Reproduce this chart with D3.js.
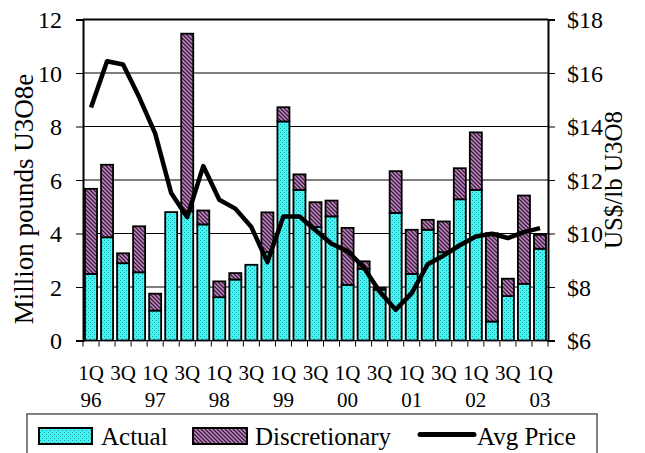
<!DOCTYPE html>
<html>
<head>
<meta charset="utf-8">
<script src="https://d3js.org/d3.v7.min.js"></script>
<style>
  body { margin: 0; background: #fff; }
  svg { display: block; }
  text { font-family: "Liberation Serif", "Times New Roman", serif; fill: #000; }
</style>
</head>
<body>
<div class="svg-container"></div>
<script>
// quarters 1Q96 .. 1Q03
const quarters = ["1Q96","2Q96","3Q96","4Q96","1Q97","2Q97","3Q97","4Q97","1Q98","2Q98","3Q98","4Q98",
  "1Q99","2Q99","3Q99","4Q99","1Q00","2Q00","3Q00","4Q00","1Q01","2Q01","3Q01","4Q01","1Q02","2Q02","3Q02","4Q02","1Q03"];
// million pounds U3O8e
const actual = [2.49,3.86,2.89,2.55,1.12,4.80,4.83,4.34,1.62,2.28,2.83,3.30,8.19,5.63,4.24,4.64,2.08,2.68,1.90,4.77,2.49,4.14,3.30,5.28,5.63,0.71,1.66,2.12,3.43];
const discretionary = [3.18,2.71,0.37,1.72,0.63,0,6.64,0.52,0.59,0.24,0,1.49,0.53,0.58,0.93,0.59,2.13,0.28,0.07,1.56,1.65,0.37,1.15,1.16,2.15,3.30,0.65,3.30,0.52];
// US$/lb U3O8
const avgPrice = [14.71,16.44,16.32,15.10,13.74,11.51,10.61,12.52,11.26,10.93,10.24,8.93,10.64,10.64,10.12,9.62,9.34,8.74,7.83,7.15,7.77,8.85,9.18,9.56,9.89,9.99,9.83,10.05,10.20];
const leftTicks = [0,2,4,6,8,10,12];
const rightTicks = [6,8,10,12,14,16,18];

var width = 645, height = 453;
var plotLeft = 83, plotRight = 548, plotTop = 19.5, plotBottom = 340.5;
var serif = "'Liberation Serif', 'Times New Roman', serif";

var svg = d3.select(".svg-container").append("svg")
  .attr("width", width)
  .attr("height", height);

var defs = svg.append("defs");

// dotted cyan fill
var pa = defs.append("pattern").attr("id", "pat-actual")
  .attr("patternUnits", "userSpaceOnUse").attr("width", 4).attr("height", 4);
pa.append("rect").attr("width", 4).attr("height", 4).attr("fill", "#3ff6f6");
pa.append("rect").attr("x", 0).attr("y", 0).attr("width", 1).attr("height", 1).attr("fill", "#2a9c9c");
pa.append("rect").attr("x", 2).attr("y", 2).attr("width", 1).attr("height", 1).attr("fill", "#2a9c9c");

// hatched purple fill
var pd = defs.append("pattern").attr("id", "pat-disc")
  .attr("patternUnits", "userSpaceOnUse").attr("width", 4).attr("height", 4);
pd.append("rect").attr("width", 4).attr("height", 4).attr("fill", "#c68cc6");
pd.append("path")
  .attr("d", "M-1,-1L5,5M-1,3L1,5M3,-1L5,1")
  .attr("stroke", "#3c1e3c").attr("stroke-width", 1.4);

var x = d3.scaleBand().domain(quarters).range([plotLeft, plotRight])
  .paddingInner(0.25).paddingOuter(0.125);
var y = d3.scaleLinear().domain([0, 12]).range([plotBottom, plotTop]);
var yPrice = d3.scaleLinear().domain([6, 18]).range([plotBottom, plotTop]);

// gridlines
svg.append("g").selectAll("line")
  .data(leftTicks.filter(function(t) { return t > 0 && t < 12; }))
  .enter().append("line")
  .attr("x1", plotLeft).attr("x2", plotRight)
  .attr("y1", function(d) { return y(d); }).attr("y2", function(d) { return y(d); })
  .attr("stroke", "#000").attr("stroke-width", 1);

// stacked bars
var rows = quarters.map(function(q, i) {
  return {q: q, actual: actual[i], disc: discretionary[i]};
});
var stack = d3.stack().keys(["actual", "disc"])(rows);
var fills = {actual: "url(#pat-actual)", disc: "url(#pat-disc)"};

svg.append("g").selectAll("g")
  .data(stack)
  .enter().append("g")
  .attr("fill", function(s) { return fills[s.key]; })
  .selectAll("rect")
  .data(function(s) { return s.filter(function(d) { return d[1] - d[0] > 0; }); })
  .enter().append("rect")
  .attr("x", function(d) { return x(d.data.q); })
  .attr("width", x.bandwidth())
  .attr("y", function(d) { return y(d[1]); })
  .attr("height", function(d) { return y(d[0]) - y(d[1]); })
  .attr("stroke", "#000").attr("stroke-width", 1.8);

// frame: top border and base line
svg.append("line").attr("x1", plotLeft).attr("x2", plotRight).attr("y1", plotTop).attr("y2", plotTop)
  .attr("stroke", "#000").attr("stroke-width", 2);
svg.append("line").attr("x1", plotLeft).attr("x2", plotRight).attr("y1", plotBottom).attr("y2", plotBottom)
  .attr("stroke", "#000").attr("stroke-width", 1);

// price line
var line = d3.line()
  .x(function(d, i) { return x(quarters[i]) + x.bandwidth() / 2; })
  .y(function(d) { return yPrice(d); });
svg.append("path").datum(avgPrice)
  .attr("d", line)
  .attr("fill", "none").attr("stroke", "#000")
  .attr("stroke-width", 4.5).attr("stroke-linejoin", "round").attr("stroke-linecap", "butt");

// left axis
var gl = svg.append("g").attr("transform", "translate(" + plotLeft + ",0)")
  .call(d3.axisLeft(y).tickValues(leftTicks).tickSize(7).tickPadding(14).tickFormat(d3.format("d")))
  .attr("font-family", serif).attr("font-size", 24);
gl.select(".domain").attr("stroke-width", 2);
gl.selectAll("text").attr("dy", "0.34em");

// right axis
var gr = svg.append("g").attr("transform", "translate(" + plotRight + ",0)")
  .call(d3.axisRight(yPrice).tickValues(rightTicks).tickSize(7).tickPadding(12)
    .tickFormat(function(d) { return "$" + d; }))
  .attr("font-family", serif).attr("font-size", 24);
gr.select(".domain").attr("stroke-width", 2);
gr.selectAll("text").attr("dy", "0.34em");

// x tick marks at category boundaries
var bounds = quarters.map(function(q) { return x(q) - x.step() * x.paddingInner() / 2; });
bounds.push(plotRight);
svg.append("g").selectAll("line")
  .data(bounds).enter().append("line")
  .attr("x1", function(d) { return d; }).attr("x2", function(d) { return d; })
  .attr("y1", plotBottom).attr("y2", plotBottom + 6)
  .attr("stroke", "#000").attr("stroke-width", 1);

// x labels every other quarter
var xl = svg.append("g").selectAll("text")
  .data(quarters.filter(function(q, i) { return i % 2 === 0; }))
  .enter().append("text")
  .attr("x", function(q) { return x(q) + x.bandwidth() / 2; })
  .attr("y", 380)
  .attr("text-anchor", "middle")
  .style("font-size", "21px");
xl.append("tspan").text(function(q) { return q.slice(0, 2); });
xl.append("tspan")
  .attr("x", function(q) { return x(q) + x.bandwidth() / 2; })
  .attr("y", 407)
  .text(function(q) { return q[0] === "1" ? q.slice(2) : ""; });

// axis titles
svg.append("text")
  .attr("transform", "translate(33,199) rotate(-90)")
  .attr("text-anchor", "middle")
  .style("font-size", "27px")
  .text("Million pounds U3O8e");
svg.append("text")
  .attr("transform", "translate(622,180) rotate(-90)")
  .attr("text-anchor", "middle")
  .style("font-size", "25px")
  .text("US$/lb U3O8");

// legend
var lg = svg.append("g");
lg.append("rect").attr("x", 27).attr("y", 414).attr("width", 570).attr("height", 60)
  .attr("fill", "#fff").attr("stroke", "#555").attr("stroke-width", 1.5);
lg.append("rect").attr("x", 39).attr("y", 428).attr("width", 53).attr("height", 16)
  .attr("fill", "url(#pat-actual)").attr("stroke", "#000").attr("stroke-width", 2);
lg.append("text").attr("x", 101).attr("y", 445).style("font-size", "25px").text("Actual");
lg.append("rect").attr("x", 193).attr("y", 428).attr("width", 54).attr("height", 16)
  .attr("fill", "url(#pat-disc)").attr("stroke", "#000").attr("stroke-width", 2);
lg.append("text").attr("x", 255).attr("y", 445).style("font-size", "25px").text("Discretionary");
lg.append("line").attr("x1", 420).attr("x2", 474).attr("y1", 434.5).attr("y2", 434.5)
  .attr("stroke", "#000").attr("stroke-width", 5).attr("stroke-linecap", "round");
lg.append("text").attr("x", 477).attr("y", 445).style("font-size", "25px").text("Avg Price");
</script>
</body>
</html>
